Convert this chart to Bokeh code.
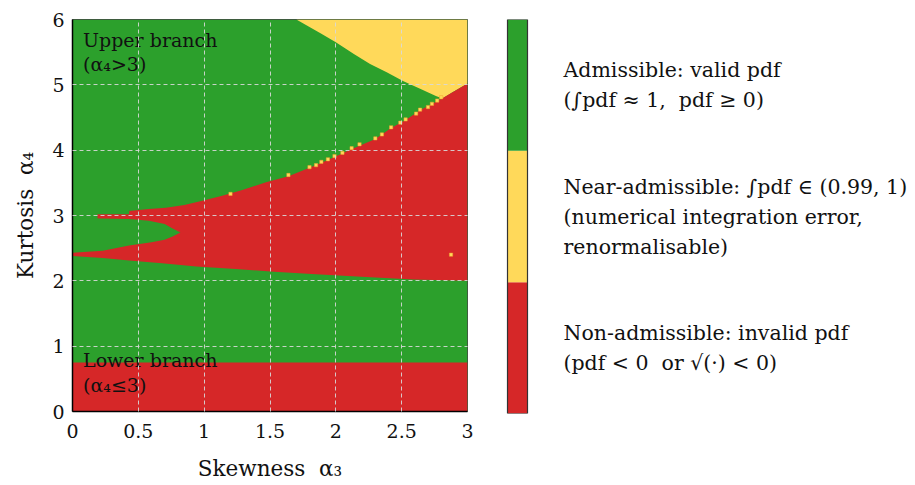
import numpy as np
from bokeh.plotting import figure
from bokeh.layouts import row
from bokeh.models import Range1d, FixedTicker
from bokeh.embed import file_html
from bokeh.resources import INLINE
from bokeh.core.properties import value

# ---------------- data ----------------
x_ticks = [0, 0.5, 1, 1.5, 2, 2.5, 3]
x_tick_labels = ["0", "0.5", "1", "1.5", "2", "2.5", "3"]
y_ticks = [0, 1, 2, 3, 4, 5, 6]
y_tick_labels = ["0", "1", "2", "3", "4", "5", "6"]

NB = "\u00a0"
categories = ["Non-admissible", "Near-admissible", "Admissible"]
category_colors = ["#d62728", "#ffd95a", "#2ca02c"]
category_texts = [
    "Non-admissible: invalid pdf\n(pdf < 0" + NB + NB + "or \u221a(\u00b7) < 0)",
    "Near-admissible: \u222bpdf \u2208 (0.99, 1)\n(numerical integration error,\nrenormalisable)",
    "Admissible: valid pdf\n(\u222bpdf \u2248 1," + NB + NB + "pdf \u2265 0)",
]

# lower non-admissible band (alpha4 below this value)
lower_band_top = 0.75

# lower edge of the middle non-admissible region
lb_x = [0.0, 0.23, 0.43, 0.68, 0.94, 1.24, 1.53, 1.85, 2.23, 2.59, 3.0]
lb_y = [2.38, 2.35, 2.31, 2.27, 2.22, 2.18, 2.14, 2.10, 2.06, 2.02, 2.00]

# upper edge of the middle non-admissible region
ub_x = [0.19, 0.43, 0.43, 0.58, 0.71, 0.85, 0.97, 1.13, 1.29, 1.47, 1.64,
        1.80, 1.94, 2.10, 2.30, 2.42, 2.53, 2.64, 2.77, 2.88, 3.0]
ub_y = [3.02, 3.02, 3.07, 3.10, 3.12, 3.16, 3.22, 3.30, 3.39, 3.51, 3.60,
        3.73, 3.85, 4.00, 4.17, 4.34, 4.46, 4.61, 4.75, 4.88, 5.02]

# admissible tongue inside the non-admissible region
tongue_x = [0.0, 0.23, 0.43, 0.60, 0.70, 0.76, 0.82, 0.76, 0.70, 0.58, 0.43, 0.0]
tongue_y = [2.43, 2.46, 2.54, 2.59, 2.63, 2.68, 2.74, 2.80, 2.87, 2.92, 2.945, 2.96]

# boundary admissible / near-admissible (upper right)
yb_x = [1.70, 1.89, 2.00, 2.14, 2.26, 2.39, 2.51, 2.64, 2.76, 2.81]
yb_y = [6.00, 5.78, 5.65, 5.47, 5.32, 5.19, 5.06, 4.94, 4.83, 4.79]

# isolated near-admissible cells
dot_x = [1.20, 1.64, 1.80, 1.85, 1.89, 1.94, 1.99, 2.05, 2.12, 2.18, 2.30,
         2.35, 2.42, 2.49, 2.53, 2.61, 2.64, 2.70, 2.73, 2.77, 2.80, 2.875]
dot_y = [3.33, 3.62, 3.74, 3.77, 3.82, 3.86, 3.91, 3.96, 4.03, 4.09, 4.18,
         4.24, 4.35, 4.42, 4.47, 4.56, 4.62, 4.66, 4.71, 4.76, 4.81, 2.40]

FONT = "DejaVu Serif"
RED, YEL, GRN = category_colors[0], category_colors[1], category_colors[2]

# ---------------- main plot ----------------
xmin, xmax = x_ticks[0], x_ticks[-1]
ymin, ymax = y_ticks[0], y_ticks[-1]

p = figure(frame_width=395, frame_height=392,
           x_range=Range1d(xmin, xmax), y_range=Range1d(ymin, ymax),
           output_backend="svg", toolbar_location=None,
           min_border_left=72, min_border_right=13,
           min_border_top=19, min_border_bottom=74)

# admissible background
p.quad(left=[xmin], right=[xmax], bottom=[ymin], top=[ymax],
       fill_color=GRN, line_color=None)
# lower non-admissible band
p.quad(left=[xmin], right=[xmax], bottom=[ymin], top=[lower_band_top],
       fill_color=RED, line_color=None)
# near-admissible region
yel_x = yb_x + [ub_x[-2], xmax, xmax]
yel_y = yb_y + [ub_y[-2], ub_y[-1], ymax]
p.patch(yel_x, yel_y, fill_color=YEL, line_color=None)
# middle non-admissible region
red_x = lb_x + ub_x[::-1] + [ub_x[0], xmin]
red_y = lb_y + ub_y[::-1] + [2.7, 2.7]
p.patch(red_x, red_y, fill_color=RED, line_color=None)
# admissible tongue
p.patch(tongue_x, tongue_y, fill_color=GRN, line_color=None)
# isolated near-admissible cells
p.rect(x=dot_x, y=dot_y, width=0.025, height=0.05,
       fill_color=YEL, line_color="#f0a030", line_width=0.5)

# annotations
p.text(x=[0.08], y=[5.86], text=["Upper branch\n(\u03b1\u2084>3)"],
       text_font=value(FONT), text_font_size="19px", text_color="#111111",
       text_baseline="top", text_align="left", text_line_height=1.1)
p.text(x=[0.08], y=[0.95], text=["Lower branch\n(\u03b1\u2084\u22643)"],
       text_font=value(FONT), text_font_size="19px", text_color="#111111",
       text_baseline="top", text_align="left", text_line_height=1.1)

# axes
p.xaxis.ticker = FixedTicker(ticks=x_ticks)
p.yaxis.ticker = FixedTicker(ticks=y_ticks)
p.xaxis.major_label_overrides = {t: l for t, l in zip(x_ticks, x_tick_labels)}
p.yaxis.major_label_overrides = {t: l for t, l in zip(y_ticks, y_tick_labels)}
for ax in (p.xaxis[0], p.yaxis[0]):
    ax.major_tick_line_color = None
    ax.minor_tick_line_color = None
    ax.major_tick_out = 0
    ax.major_tick_in = 0
    ax.axis_line_color = "black"
    ax.axis_line_width = 1.5
    ax.major_label_text_font = FONT
    ax.major_label_text_font_size = "19px"
    ax.major_label_text_color = "#111111"
    ax.axis_label_text_font = FONT
    ax.axis_label_text_font_size = "21.5px"
    ax.axis_label_text_font_style = "normal"
    ax.axis_label_text_color = "#111111"
p.xaxis.major_label_standoff = 12
p.yaxis.major_label_standoff = 8
p.xaxis.axis_label = "Skewness" + NB + NB + "\u03b1\u2083"
p.yaxis.axis_label = "Kurtosis" + NB + NB + "\u03b1\u2084"
p.xaxis.axis_label_standoff = 15
p.yaxis.axis_label_standoff = 11

p.xgrid.ticker = FixedTicker(ticks=x_ticks[1:-1])
p.ygrid.ticker = FixedTicker(ticks=y_ticks[1:-1])
for g in (p.xgrid[0], p.ygrid[0]):
    g.level = "overlay"
    g.grid_line_color = "#d8d8d8"
    g.grid_line_alpha = 0.9
    g.grid_line_dash = "4 3"
    g.grid_line_width = 1
p.outline_line_color = "#444444"
p.outline_line_width = 1
p.background_fill_color = "white"

# ---------------- colour bar + legend ----------------
p2 = figure(frame_width=435, frame_height=394,
            x_range=Range1d(0, 435), y_range=Range1d(0, len(categories)),
            output_backend="svg", toolbar_location=None,
            x_axis_location=None, y_axis_location=None,
            min_border_left=0, min_border_right=0,
            min_border_top=17, min_border_bottom=74)
p2.grid.visible = False
p2.outline_line_color = None
idx = np.arange(len(categories))
p2.quad(left=27, right=47, bottom=idx, top=idx + 1,
        fill_color=category_colors, line_color=None)
p2.quad(left=[27], right=[47], bottom=[0], top=[len(categories)],
        fill_color=None, line_color="#333333", line_width=1.2)
p2.text(x=[83] * len(categories), y=idx + 0.5, text=category_texts,
        text_font=value(FONT), text_font_size="20.5px", text_color="#111111",
        text_baseline="middle", text_align="left", text_line_height=1.25)

layout = row(p, p2)
open("out.html", "w").write(file_html(layout, INLINE))
